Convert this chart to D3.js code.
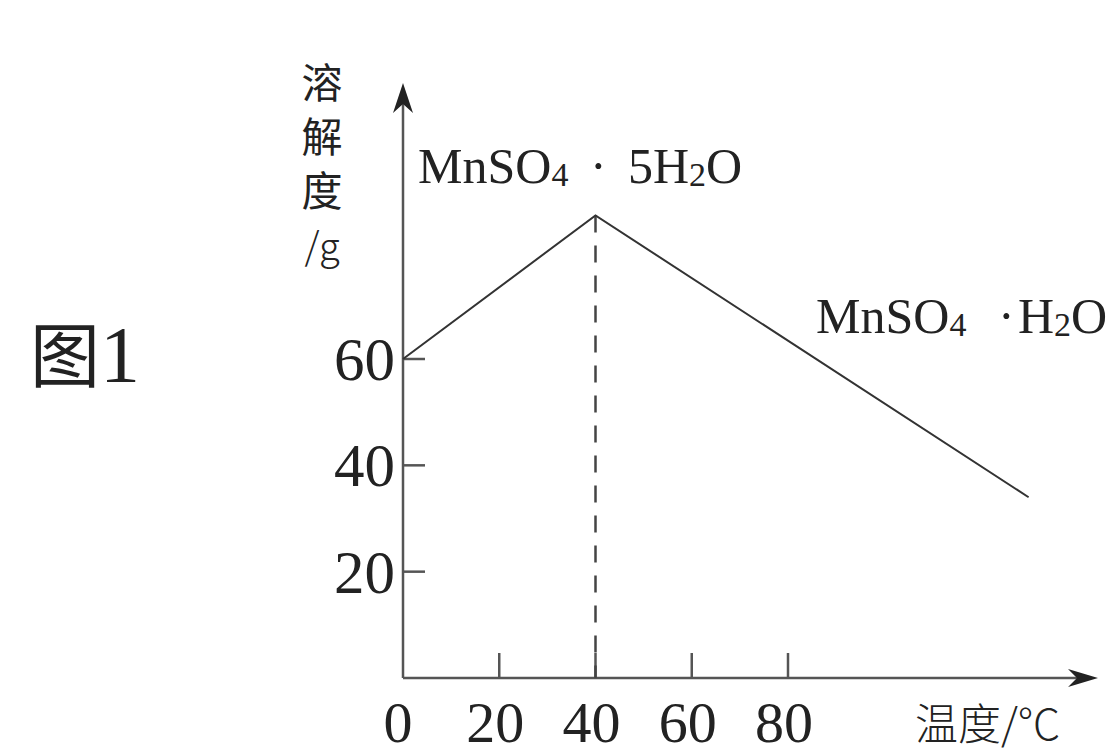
<!DOCTYPE html>
<html>
<head>
<meta charset="utf-8">
<script src="https://cdn.jsdelivr.net/npm/d3@7"></script>
<style>
  html, body { margin: 0; padding: 0; background: #fff; }
  svg { display: block; }
</style>
</head>
<body>
<div id="chart"></div>
<script>
// data
const temps = [0, 40, 130];
const solubility = [60, 87, 34];
const xTicks = [20, 40, 60, 80];
const xTickLabels = [0, 20, 40, 60, 80];
const yTicks = [20, 40, 60];
const peakTemp = 40;

const width = 1113;
const height = 751;
const serif = "'Liberation Serif', 'Times New Roman', serif";
const cjk = "'Noto Sans CJK SC', sans-serif";
const axisColor = "#555";

const svg = d3.select("#chart")
  .append("svg")
  .attr("width", width)
  .attr("height", height);

const x = d3.scaleLinear().domain([0, 80]).range([403, 788]);
const y = d3.scaleLinear().domain([0, 60]).range([678, 359]);

const x0 = x(0), y0 = y(0);

// axes
svg.append("line")
  .attr("x1", x0).attr("y1", y0)
  .attr("x2", x0).attr("y2", 90)
  .attr("stroke", axisColor).attr("stroke-width", 2.5);

svg.append("line")
  .attr("x1", x0).attr("y1", y0)
  .attr("x2", 1090).attr("y2", y0)
  .attr("stroke", axisColor).attr("stroke-width", 2.5);

// arrow heads
svg.append("path")
  .attr("d", `M${x0},83 L${x0 + 10},113 L${x0},104 L${x0 - 10},113 Z`)
  .attr("fill", "#222");

svg.append("path")
  .attr("d", `M1098,${y0} L1068,${y0 - 9} L1077,${y0} L1068,${y0 + 9} Z`)
  .attr("fill", "#222");

// ticks
svg.selectAll(".xtick")
  .data(xTicks)
  .enter().append("line")
  .attr("x1", d => x(d)).attr("x2", d => x(d))
  .attr("y1", y0).attr("y2", y0 - 25)
  .attr("stroke", axisColor).attr("stroke-width", 2.5);

svg.selectAll(".ytick")
  .data(yTicks)
  .enter().append("line")
  .attr("x1", x0).attr("x2", x0 + 22)
  .attr("y1", d => y(d)).attr("y2", d => y(d))
  .attr("stroke", axisColor).attr("stroke-width", 2.5);

// tick labels
svg.selectAll(".xlabel")
  .data(xTickLabels)
  .enter().append("text")
  .attr("x", d => x(d) - (d === 0 ? 5 : 4))
  .attr("y", 742)
  .attr("text-anchor", "middle")
  .attr("font-family", serif)
  .attr("font-size", 58)
  .attr("fill", "#222")
  .text(d => d);

svg.selectAll(".ylabel")
  .data(yTicks)
  .enter().append("text")
  .attr("x", x0 - 8)
  .attr("y", d => y(d) + 21)
  .attr("text-anchor", "end")
  .attr("font-family", serif)
  .attr("font-size", 61)
  .attr("fill", "#222")
  .text(d => d);

// dashed drop line
svg.append("line")
  .attr("x1", x(peakTemp)).attr("x2", x(peakTemp))
  .attr("y1", y(solubility[1])).attr("y2", y0)
  .attr("stroke", "#444").attr("stroke-width", 2.5)
  .attr("stroke-dasharray", "17,13");

// solubility curve
const line = d3.line()
  .x((d, i) => x(temps[i]))
  .y(d => y(d));

svg.append("path")
  .datum(solubility)
  .attr("d", line)
  .attr("fill", "none")
  .attr("stroke", "#333")
  .attr("stroke-width", 2);

// y title, vertical
svg.append("text")
  .attr("x", 322)
  .attr("y", 62)
  .attr("font-family", cjk)
  .attr("font-size", 41)
  .attr("letter-spacing", 13)
  .style("writing-mode", "vertical-rl")
  .style("text-orientation", "upright")
  .attr("fill", "#222")
  .text("溶解度");

svg.append("text")
  .attr("x", 322)
  .attr("y", 260)
  .attr("text-anchor", "middle")
  .attr("font-family", cjk)
  .attr("font-size", 38)
  .attr("font-weight", 300)
  .attr("fill", "#222")
  .text("/g");

// x title
svg.append("text")
  .attr("x", 915)
  .attr("y", 740)
  .attr("font-family", cjk)
  .attr("font-size", 43)
  .attr("font-weight", 300)
  .attr("fill", "#222")
  .text("温度/°C");

// compound labels
function formula(xp, yp, dotX, restX, rest) {
  const t = svg.append("text")
    .attr("x", xp).attr("y", yp)
    .attr("font-family", serif)
    .attr("font-size", 50)
    .attr("fill", "#222");
  t.append("tspan").text("MnSO");
  t.append("tspan").attr("font-size", 34).attr("dy", 3).text("4");
  t.append("tspan").attr("x", dotX).attr("dy", -3).text("·");
  t.append("tspan").attr("x", restX).text(rest);
  t.append("tspan").attr("font-size", 34).attr("dy", 3).text("2");
  t.append("tspan").attr("dy", -3).text("O");
}

formula(418, 183, 590, 628, "5H");
formula(816, 333, 998, 1018, "H");

// figure label
const fig = svg.append("text")
  .attr("x", 30).attr("y", 382)
  .attr("fill", "#222");
fig.append("tspan")
  .attr("font-family", cjk)
  .attr("font-size", 70)
  .text("图");
fig.append("tspan")
  .attr("font-family", serif)
  .attr("font-size", 80)
  .text("1");
</script>
</body>
</html>
